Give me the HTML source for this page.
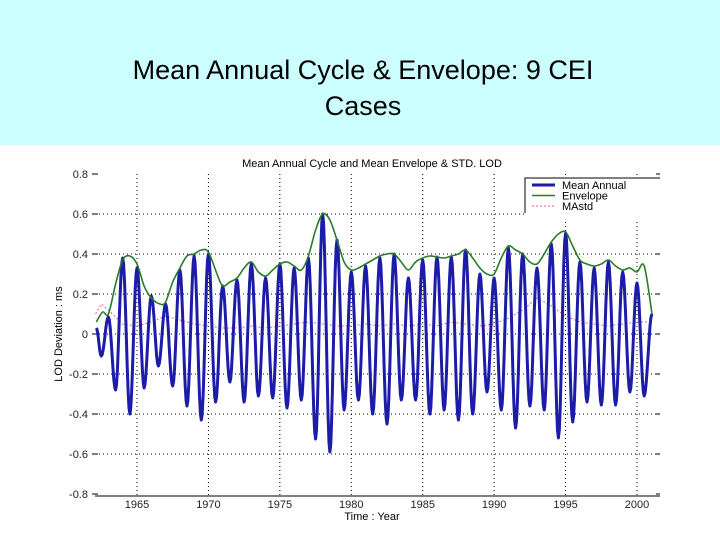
<!DOCTYPE html>
<html><head><meta charset="utf-8"><style>
body{margin:0;width:720px;height:540px;background:#fff;overflow:hidden;font-family:"Liberation Sans",sans-serif}
#hdr{position:absolute;left:0;top:0;width:720px;height:145px;background:#ccffff}
#ttl{position:absolute;left:0;top:52px;width:726px;text-align:center;font-size:27px;line-height:36px;color:#000}
svg{position:absolute;left:0;top:0}
</style></head><body>
<div id="hdr"></div>
<div id="ttl">Mean Annual Cycle &amp; Envelope: 9 CEI<br>Cases</div>
<svg id="chart" width="720" height="540"></svg>
<script>
const peakYears=[1963,1964,1965,1966,1967,1968,1969,1970,1971,1972,1973,1974,1975,1976,1977,1978,1979,1980,1981,1982,1983,1984,1985,1986,1987,1988,1989,1990,1991,1992,1993,1994,1995,1996,1997,1998,1999,2000];
const peakVals=[0.085,0.38,0.33,0.19,0.15,0.32,0.39,0.40,0.24,0.27,0.35,0.28,0.35,0.33,0.38,0.60,0.47,0.31,0.34,0.38,0.40,0.28,0.37,0.385,0.385,0.42,0.30,0.28,0.43,0.40,0.33,0.45,0.505,0.36,0.33,0.36,0.31,0.255];
const troughVals=[-0.11,-0.28,-0.40,-0.27,-0.16,-0.26,-0.36,-0.43,-0.34,-0.24,-0.34,-0.31,-0.32,-0.37,-0.33,-0.525,-0.59,-0.38,-0.33,-0.40,-0.45,-0.33,-0.33,-0.40,-0.38,-0.43,-0.40,-0.29,-0.38,-0.47,-0.36,-0.38,-0.52,-0.44,-0.34,-0.355,-0.355,-0.29,-0.31];
const startPoint=[1962.15,0.03];
const endPoint=[2001.05,0.1];
const envYears=[1962.15,1962.6,1963,1963.5,1964,1964.5,1965,1965.5,1966,1966.6,1967,1967.5,1968,1968.5,1969,1969.5,1970,1970.6,1971,1971.5,1972,1972.5,1973,1973.5,1974,1974.5,1975,1975.5,1976,1976.5,1977,1977.5,1978,1978.5,1979,1979.5,1980,1980.5,1981,1981.5,1982,1982.5,1983,1983.5,1984,1984.5,1985,1985.5,1986,1986.5,1987,1987.5,1988,1988.5,1989,1989.5,1990,1990.5,1991,1991.5,1992,1992.5,1993,1993.5,1994,1994.5,1995,1995.5,1996,1996.5,1997,1997.5,1998,1998.5,1999,1999.5,2000,2000.5,2001.05];
const envVals=[0.06,0.11,0.1,0.25,0.37,0.39,0.35,0.24,0.18,0.15,0.16,0.26,0.33,0.39,0.40,0.42,0.41,0.30,0.24,0.26,0.28,0.33,0.36,0.31,0.29,0.32,0.35,0.36,0.34,0.32,0.39,0.52,0.60,0.57,0.47,0.36,0.32,0.33,0.35,0.37,0.39,0.40,0.40,0.36,0.32,0.36,0.38,0.39,0.385,0.38,0.39,0.40,0.42,0.38,0.33,0.30,0.30,0.38,0.44,0.42,0.40,0.36,0.35,0.40,0.46,0.50,0.51,0.44,0.37,0.35,0.34,0.35,0.37,0.34,0.32,0.33,0.31,0.34,0.1];
const stdYears=[1962.1,1962.5,1963,1964,1965,1966,1967,1968,1969,1970,1971,1972,1973,1974,1975,1976,1977,1978,1979,1980,1981,1982,1983,1984,1985,1986,1987,1988,1989,1990,1991,1992,1993,1994,1995,1996,1997,1998,1999,2000,2001];
const stdVals=[0.1,0.15,0.12,0.05,0.04,0.06,0.09,0.07,0.05,0.04,0.03,0.03,0.04,0.03,0.04,0.05,0.06,0.05,0.04,0.04,0.05,0.04,0.05,0.04,0.05,0.04,0.06,0.05,0.04,0.05,0.08,0.12,0.18,0.14,0.09,0.06,0.05,0.04,0.05,0.06,0.06];
const yTicks=[-0.8,-0.6,-0.4,-0.2,0,0.2,0.4,0.6,0.8];
const yTickLabels=["-0.8","-0.6","-0.4","-0.2","0","0.2","0.4","0.6","0.8"];
const xTicks=[1965,1970,1975,1980,1985,1990,1995,2000];

const NS="http://www.w3.org/2000/svg";
const svg=document.getElementById('chart');
const X=yr=>137+(yr-1965)*14.286;
const Y=v=>334-v*200;
const L=95,R=660,T=174,B=496;
function mk(tag,attrs,parent){const e=document.createElementNS(NS,tag);for(const k in attrs)e.setAttribute(k,attrs[k]);(parent||svg).appendChild(e);return e;}

let t=mk('text',{x:372,y:167,'font-size':11,'text-anchor':'middle',fill:'#000'});


t.textContent='Mean Annual Cycle and Mean Envelope & STD. LOD';

const grid=mk('g',{stroke:'#000','stroke-width':1,'stroke-dasharray':'1,3'});


yTicks.forEach((v,i)=>{
  if(v>-0.8&&v<0.8) mk('line',{x1:L,x2:R,y1:Y(v),y2:Y(v)},grid);
  const tk=mk('line',{x1:L-3,x2:L+3,y1:Y(v),y2:Y(v),stroke:'#000'});
  
  
  mk('line',{x1:R-4,x2:R,y1:Y(v),y2:Y(v),stroke:'#000'});
  const lb=mk('text',{x:88,y:Y(v)+4,'font-size':11,'text-anchor':'end',fill:'#222'});
  
  
  lb.textContent=yTickLabels[i];
});
xTicks.forEach(yr=>{
  mk('line',{x1:X(yr),x2:X(yr),y1:T,y2:B},grid);
  const lb=mk('text',{x:X(yr),y:508,'font-size':11,'text-anchor':'middle',fill:'#222'});
  
  
  lb.textContent=yr;
});
const ax=mk('line',{x1:L,x2:R,y1:B,y2:B,stroke:'#000','stroke-width':1});



let ds='';stdYears.forEach((yr,i)=>{ds+=(i?'L':'M')+X(yr).toFixed(1)+','+Y(stdVals[i]).toFixed(1);});
const sp=mk('path',{d:ds,fill:'none',stroke:'#e060a0','stroke-width':1,'stroke-dasharray':'2,2'});



const ext=[startPoint];
for(let i=0;i<troughVals.length;i++){
  ext.push([1962.5+i,troughVals[i]]);
  if(i<peakYears.length) ext.push([peakYears[i],peakVals[i]]);
}
ext.push(endPoint);
let dm='M'+X(ext[0][0]).toFixed(1)+','+Y(ext[0][1]).toFixed(1);
for(let i=1;i<ext.length;i++){
  const [x0,v0]=ext[i-1],[x1,v1]=ext[i];
  for(let s=1;s<=8;s++){const f=s/8;const w=(1-Math.cos(Math.PI*f))/2;
    dm+='L'+X(x0+(x1-x0)*f).toFixed(1)+','+Y(v0+(v1-v0)*w).toFixed(1);}
}
const mp=mk('path',{d:dm,fill:'none',stroke:'#1c1ca8','stroke-width':3,'stroke-linejoin':'round'});



const pts=envYears.map((yr,i)=>[X(yr),Y(envVals[i])]);
let de='M'+pts[0][0].toFixed(1)+','+pts[0][1].toFixed(1);
for(let i=0;i<pts.length-1;i++){
  const p0=pts[Math.max(0,i-1)],p1=pts[i],p2=pts[i+1],p3=pts[Math.min(pts.length-1,i+2)];
  const c1=[p1[0]+(p2[0]-p0[0])/6,p1[1]+(p2[1]-p0[1])/6],c2=[p2[0]-(p3[0]-p1[0])/6,p2[1]-(p3[1]-p1[1])/6];
  de+='C'+c1.map(n=>n.toFixed(1))+' '+c2.map(n=>n.toFixed(1))+' '+p2.map(n=>n.toFixed(1));
}
const ep=mk('path',{d:de,fill:'none',stroke:'#2a7a2a','stroke-width':1.6});



const lg=mk('g',{});


mk('rect',{x:525,y:178,width:135,height:35,fill:'#fff'},lg);
mk('path',{d:'M525,213V178H660',fill:'none',stroke:'#000','stroke-width':1},lg);
const items=[['Mean Annual','#1c1ca8',3,''],['Envelope','#2a7a2a',1.6,''],['MAstd','#e060a0',1,'2,2']];
items.forEach((it,i)=>{
  const yy=185+i*10.5;
  mk('line',{x1:532,x2:555,y1:yy,y2:yy,stroke:it[1],'stroke-width':it[2],'stroke-dasharray':it[3]},lg);
  const tx=mk('text',{x:562,y:yy+4,'font-size':11,fill:'#000'},lg);
  
  
  tx.textContent=it[0];
});
mk('rect',{x:524,y:213,width:137,height:6,fill:'#fff'});

const xl=mk('text',{x:372,y:520,'font-size':11,'text-anchor':'middle',fill:'#000'});


xl.textContent='Time : Year';
const yl=mk('text',{x:0,y:0,'font-size':11,'text-anchor':'middle',fill:'#000',transform:'translate(62,334) rotate(-90)'});


yl.textContent='LOD Deviation : ms';
</script>
</body></html>
